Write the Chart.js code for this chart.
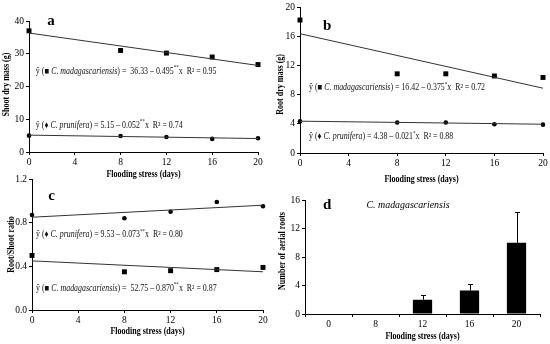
<!DOCTYPE html>
<html>
<head>
<meta charset="utf-8">
<script src="https://cdn.jsdelivr.net/npm/chart.js@4"></script>
<style>
  body { margin: 0; background: #fff; }
  #wrap { position: relative; width: 550px; height: 344px; background: #fff; }
  #wrap canvas { position: absolute; }
</style>
</head>
<body>
<div id="wrap">
  <canvas id="panelA" width="275" height="182" style="left:0;top:0"></canvas>
  <canvas id="panelB" width="275" height="186" style="left:275px;top:0"></canvas>
  <canvas id="panelC" width="275" height="174" style="left:0;top:170px"></canvas>
  <canvas id="panelD" width="275" height="158" style="left:275px;top:186px"></canvas>
</div>
<script>
// Flooding stress (days)
const days = [0, 8, 12, 16, 20];
const fitDays = [0, 20];

// a: shoot dry mass (g)
const shootMad = [37.0, 31.0, 30.2, 29.0, 26.7];
const shootPru = [5.0, 4.9, 4.6, 4.0, 4.2];
const shootMadFit = [36.33, 26.43];
const shootPruFit = [5.15, 4.11];

// b: root dry mass (g)
const rootMad = [18.3, 10.9, 10.9, 10.6, 10.4];
const rootPru = [4.35, 4.2, 4.2, 3.95, 3.9];
const rootMadFit = [16.42, 8.92];
const rootPruFit = [4.38, 3.96];

// c: root/shoot ratio
const ratioPru = [0.87, 0.84, 0.90, 0.99, 0.95];
const ratioMad = [0.50, 0.35, 0.36, 0.37, 0.39];
const ratioPruFit = [0.85, 0.96];
const ratioMadFit = [0.45, 0.35];

// d: number of aerial roots (C. madagascariensis)
const aerialLabels = ["0", "8", "12", "16", "20"];
const aerialRoots = [0, 0, 2.0, 3.3, 10.0];
const aerialErr = [0, 0, 0.6, 0.9, 4.3];

const SERIF = '"Liberation Serif", "DejaVu Serif", serif';
const TITLE_FONT = "bold 10px " + SERIF;
Chart.defaults.font.family = SERIF;
Chart.defaults.color = "#000";
Chart.defaults.animation = false;

const pts = (xs, ys) => xs.map((x, i) => ({ x, y: ys[i] }));

// the original uses a narrow Times face, so text is squeezed along its run
function squeezed(ctx, text, x, y, font, sx, rot) {
  ctx.save();
  ctx.translate(x, y);
  if (rot) ctx.rotate(rot);
  ctx.scale(sx, 1);
  ctx.font = font;
  ctx.fillStyle = "#000";
  ctx.textAlign = "center";
  ctx.textBaseline = "middle";
  ctx.fillText(text, 0, 0);
  ctx.restore();
}

// rich text: parts drawn one after another (italic / superscript pieces)
function drawRich(ctx, x, y, parts, size, sx) {
  ctx.save();
  ctx.translate(x, y);
  ctx.scale(sx, 1);
  ctx.textBaseline = "middle";
  ctx.textAlign = "left";
  ctx.fillStyle = "#111";
  let cx = 0;
  parts.forEach(p => {
    const s = p.sup ? size * 0.65 : size;
    ctx.font = (p.i ? "italic " : "") + s + "px " + SERIF;
    ctx.fillText(p.t, cx, p.sup ? -size * 0.35 : 0);
    cx += ctx.measureText(p.t).width;
  });
  ctx.restore();
}

function eq(marker, species, rest, sig, r2) {
  return [
    { t: "ŷ (" + marker + " " },
    { t: species, i: true },
    { t: ") = " + rest },
    { t: sig, sup: true },
    { t: "x  R² = " + r2 }
  ];
}

// axis titles + panel letter + equations
function notes(cfg) {
  return {
    id: "notes",
    afterDatasetsDraw(chart) {
      const { ctx, scales, chartArea: a } = chart;
      squeezed(ctx, "Flooding stress (days)", (a.left + a.right) / 2, cfg.xTitleY, TITLE_FONT, 0.8, 0);
      squeezed(ctx, cfg.yTitle, cfg.yTitleX, (a.top + a.bottom) / 2 + (cfg.yShift || 0), TITLE_FONT, 0.8, -Math.PI / 2);
      (cfg.items || []).forEach(it => {
        const x = scales.x.getPixelForValue(it.x);
        const y = scales.y.getPixelForValue(it.y);
        if (it.letter) {
          ctx.save();
          ctx.font = "bold 15px " + SERIF;
          ctx.fillStyle = "#000";
          ctx.textBaseline = "middle";
          ctx.textAlign = "left";
          ctx.fillText(it.letter, x, y);
          ctx.restore();
        } else {
          drawRich(ctx, x, y, it.parts, 9.5, 0.83);
        }
      });
    }
  };
}

function axisX(h) {
  return {
    type: "linear", min: 0, max: 20,
    ticks: { stepSize: 4, font: { size: 9.5 }, padding: 2 },
    grid: { display: true, drawOnChartArea: false, drawTicks: true, tickLength: 3, color: "#000" },
    border: { color: "#000", width: 1 },
    afterFit(s) { s.height = h; }
  };
}

function axisY(min, max, step, w, fmt) {
  return {
    min, max,
    ticks: { stepSize: step, font: { size: 9.5 }, padding: 2, callback: fmt || (v => v) },
    grid: { display: true, drawOnChartArea: false, drawTicks: true, tickLength: 3, color: "#000" },
    border: { color: "#000", width: 1 },
    afterFit(s) { s.width = w; }
  };
}

function scatterSet(xs, ys, style, r) {
  return {
    type: "line", data: pts(xs, ys), showLine: false, clip: false,
    pointStyle: style, pointRadius: r, pointBackgroundColor: "#000",
    pointBorderColor: "#000", pointBorderWidth: 0
  };
}

function fitSet(ys) {
  return {
    type: "line", data: pts(fitDays, ys), pointRadius: 0,
    borderColor: "#333", borderWidth: 1, clip: false
  };
}

function lineChart(id, sets, x, y, pad, cfg) {
  new Chart(document.getElementById(id), {
    type: "line",
    data: { datasets: sets },
    options: {
      responsive: false,
      layout: { padding: pad },
      plugins: { legend: { display: false }, tooltip: { enabled: false } },
      scales: { x, y }
    },
    plugins: [notes(cfg)]
  });
}

/* a: Shoot dry mass */
lineChart("panelA",
  [fitSet(shootMadFit), fitSet(shootPruFit),
   scatterSet(days, shootMad, "rect", 3.5), scatterSet(days, shootPru, "circle", 2.3)],
  axisX(30),
  axisY(0, 40, 10, 29),
  { left: 0, right: 17, top: 21, bottom: 0 },
  {
    xTitleY: 174, yTitle: "Shoot dry mass (g)", yTitleX: 6, yShift: -2,
    items: [
      { letter: "a", x: 1.6, y: 40 },
      { x: 0.6, y: 24.7, parts: eq("■", "C. madagascariensis", " 36.33 – 0.495", "**", "0.95") },
      { x: 0.6, y: 8.2, parts: eq("♦", "C. prunifera", "5.15 – 0.052", "**", "0.74") }
    ]
  });

/* b: Root dry mass */
lineChart("panelB",
  [fitSet(rootMadFit), fitSet(rootPruFit),
   scatterSet(days, rootMad, "rect", 3.5), scatterSet(days, rootPru, "circle", 2.3)],
  axisX(33),
  axisY(0, 20, 4, 25),
  { left: 0, right: 7, top: 7, bottom: 0 },
  {
    xTitleY: 179, yTitle: "Root dry mass (g)", yTitleX: 5, yShift: 4,
    items: [
      { letter: "b", x: 1.9, y: 17.5 },
      { x: 0.74, y: 9.0, parts: eq("■", "C. madagascariensis", "16.42 – 0.375", "*", "0.72") },
      { x: 0.74, y: 2.3, parts: eq("♦", "C. prunifera", "4.38 – 0.021", "*", "0.88") }
    ]
  });

/* c: Root/Shoot ratio */
lineChart("panelC",
  [fitSet(ratioPruFit), fitSet(ratioMadFit),
   scatterSet(days, ratioPru, "circle", 2.3), scatterSet(days, ratioMad, "rect", 3.5)],
  axisX(34),
  axisY(0, 1.2, 0.4, 32, v => v.toFixed(1)),
  { left: 0, right: 12, top: 9, bottom: 0 },
  {
    xTitleY: 161, yTitle: "Root/Shoot ratio", yTitleX: 11, yShift: 0,
    items: [
      { letter: "c", x: 1.4, y: 1.04 },
      { x: 0.35, y: 0.69, parts: eq("♦", "C. prunifera", "9.53 – 0.073", "**", "0.80") },
      { x: 0.35, y: 0.2, parts: eq("■", "C. madagascariensis", " 52.75 – 0.870", "**", "0.87") }
    ]
  });

/* d: Number of aerial roots */
const errorBars = {
  id: "errorBars",
  afterDatasetsDraw(chart) {
    const { ctx, scales } = chart;
    const meta = chart.getDatasetMeta(0);
    ctx.save();
    ctx.strokeStyle = "#000";
    ctx.lineWidth = 1;
    aerialErr.forEach((e, i) => {
      if (!e) return;
      const x = Math.round(meta.data[i].x) + 0.5;
      const y0 = scales.y.getPixelForValue(aerialRoots[i]);
      const y1 = Math.round(scales.y.getPixelForValue(aerialRoots[i] + e)) + 0.5;
      ctx.beginPath();
      ctx.moveTo(x, y0); ctx.lineTo(x, y1);
      ctx.moveTo(x - 2.5, y1); ctx.lineTo(x + 2.5, y1);
      ctx.stroke();
    });
    ctx.restore();
    const a = chart.chartArea;
    const yl = scales.y.getPixelForValue(15.3);
    ctx.save();
    ctx.font = "bold 15px " + SERIF;
    ctx.fillStyle = "#000";
    ctx.textBaseline = "middle";
    ctx.textAlign = "left";
    ctx.fillText("d", a.left + 18, yl);
    ctx.restore();
    squeezed(ctx, "C. madagascariensis", a.left + 103, yl, "italic 11px " + SERIF, 0.9, 0);
    squeezed(ctx, "Flooding stress (days)", (a.left + a.right) / 2, 150, TITLE_FONT, 0.8, 0);
    squeezed(ctx, "Number of aerial roots", 7, (a.top + a.bottom) / 2 - 6, TITLE_FONT, 0.8, -Math.PI / 2);
  }
};

new Chart(document.getElementById("panelD"), {
  type: "bar",
  data: {
    labels: aerialLabels,
    datasets: [{ data: aerialRoots, backgroundColor: "#000", barPercentage: 0.82, categoryPercentage: 0.5 }]
  },
  options: {
    responsive: false,
    layout: { padding: { left: 0, right: 10, top: 14, bottom: 0 } },
    plugins: { legend: { display: false }, tooltip: { enabled: false } },
    scales: {
      x: {
        ticks: { font: { size: 9.5 }, padding: 2 },
        grid: { display: true, offset: true, drawOnChartArea: false, drawTicks: true, tickLength: 3, color: "#000" },
        border: { color: "#000", width: 1 },
        afterFit(s) { s.height = 30; }
      },
      y: axisY(0, 16, 4, 30)
    }
  },
  plugins: [errorBars]
});
</script>
</body>
</html>
